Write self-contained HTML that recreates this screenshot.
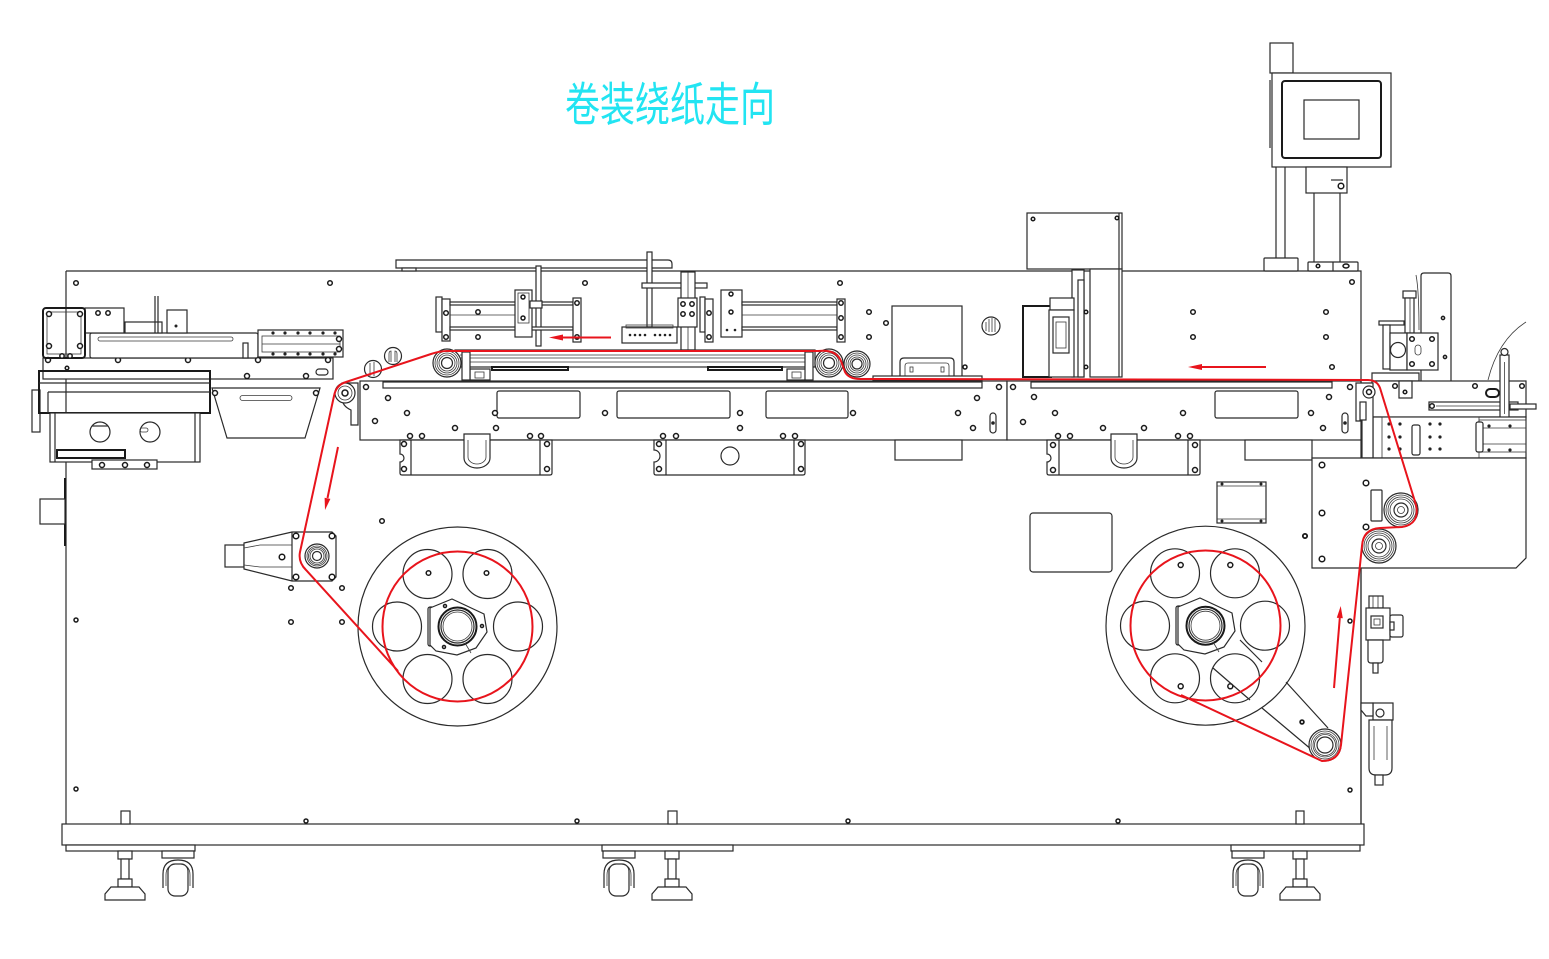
<!DOCTYPE html>
<html><head><meta charset="utf-8"><style>
html,body{margin:0;padding:0;background:#fff;width:1549px;height:959px;overflow:hidden}
svg{display:block}
.l{fill:none;stroke:#2a2a2a;stroke-width:1.2}
.w{fill:#fff;stroke:#2a2a2a;stroke-width:1.2}
.t{fill:none;stroke:#3a3a3a;stroke-width:0.8}
.k{fill:none;stroke:#1a1a1a;stroke-width:2}
.h{fill:#fff;stroke:#1a1a1a;stroke-width:1.5}
.r{fill:none;stroke:#e8141c;stroke-width:2}
.ra{fill:#e8141c;stroke:none}
</style></head><body>
<svg width="1549" height="959" viewBox="0 0 1549 959" xmlns="http://www.w3.org/2000/svg">
<rect width="1549" height="959" fill="#fff"/>

<!-- Title -->
<text transform="translate(565,121) scale(1,1.3)" x="0" y="0" font-family="'Liberation Sans','Noto Sans CJK SC',sans-serif" font-size="36" textLength="210" lengthAdjust="spacingAndGlyphs" fill="#22e4f2">卷装绕纸走向</text>

<!-- Main frame -->
<path class="l" d="M66,271 H1361 V824 M66,271 V824"/>
<path class="k" d="M65,478 V546"/>
<rect class="w" x="40" y="499" width="25" height="25"/>

<!-- base beam -->
<rect class="w" x="62" y="824" width="1302" height="21"/>
<rect class="w" x="66" y="845" width="129" height="6"/>
<rect class="w" x="602" y="845" width="131" height="6"/>
<rect class="w" x="1231" y="845" width="129" height="6"/>
<rect class="w" x="121" y="811" width="9" height="13"/>
<rect class="w" x="668" y="811" width="9" height="13"/>
<rect class="w" x="1296" y="811" width="8" height="13"/>

<!-- feet -->
<g>
<rect class="w" x="118" y="851" width="14" height="8"/><rect class="w" x="121" y="859" width="8" height="20"/><rect class="w" x="118" y="879" width="14" height="8"/>
<path class="w" d="M111,887 H139 L145,894 V900 H105 V894 Z"/>
<rect class="w" x="665" y="851" width="14" height="8"/><rect class="w" x="668" y="859" width="8" height="20"/><rect class="w" x="665" y="879" width="14" height="8"/>
<path class="w" d="M658,887 H686 L692,894 V900 H652 V894 Z"/>
<rect class="w" x="1293" y="851" width="14" height="8"/><rect class="w" x="1296" y="859" width="8" height="20"/><rect class="w" x="1293" y="879" width="14" height="8"/>
<path class="w" d="M1286,887 H1314 L1320,894 V900 H1280 V894 Z"/>
</g>
<!-- casters -->
<g>
<rect class="w" x="162" y="851" width="32" height="7"/>
<path class="l" d="M163,888 V874 Q163,860 178,860 Q193,860 193,874 V888"/>
<rect class="w" x="168" y="864" width="20" height="32" rx="7"/>
<path class="t" d="M166,886 V875 Q166,864 178,864 Q190,864 190,875 V886"/>
<rect class="w" x="603" y="851" width="32" height="7"/>
<path class="l" d="M604,888 V874 Q604,860 619,860 Q634,860 634,874 V888"/>
<rect class="w" x="609" y="864" width="20" height="32" rx="7"/>
<path class="t" d="M607,886 V875 Q607,864 619,864 Q631,864 631,875 V886"/>
<rect class="w" x="1232" y="851" width="32" height="7"/>
<path class="l" d="M1233,888 V874 Q1233,860 1248,860 Q1263,860 1263,874 V888"/>
<rect class="w" x="1238" y="864" width="20" height="32" rx="7"/>
<path class="t" d="M1236,886 V875 Q1236,864 1248,864 Q1260,864 1260,875 V886"/>
</g>

<!-- top rail -->
<path class="w" d="M396,260 H668 Q672,260 672,264 V268 H396 Z"/>
<rect class="w" x="402" y="268" width="14" height="3"/>
<!-- vertical post + bar -->
<rect class="w" x="647" y="252" width="5" height="75"/>
<rect class="w" x="642" y="283" width="65" height="5"/>
<rect class="w" x="536" y="266" width="5" height="80"/>

<!-- Left module -->
<g>
<rect class="w" x="43" y="358" width="290" height="21"/>
<circle class="h" cx="67" cy="368" r="1.8"/><circle class="h" cx="247" cy="376" r="2.5"/><circle class="h" cx="306" cy="376" r="2.5"/>
<rect class="w" x="316" y="369" width="12" height="6" rx="3"/>
<circle class="h" cx="48" cy="360" r="2.5"/><circle class="h" cx="118" cy="360" r="2.5"/><circle class="h" cx="188" cy="360" r="2.5"/><circle class="h" cx="258" cy="360" r="2.5"/><circle class="h" cx="328" cy="360" r="2.5"/>
<rect class="w" x="90" y="333" width="168" height="25" rx="2"/>
<rect class="t" x="98" y="337" width="135" height="4" rx="2"/>
<rect class="w" x="243" y="343" width="5" height="15"/>
<rect class="w" x="258" y="330" width="85" height="27"/>
<rect class="t" x="262" y="336" width="78" height="16"/>
<line class="t" x1="262" y1="344" x2="340" y2="344"/>
<g fill="#222"><circle cx="273" cy="333" r="1.6"/><circle cx="285" cy="333" r="1.6"/><circle cx="298" cy="333" r="1.6"/><circle cx="310" cy="333" r="1.6"/><circle cx="323" cy="333" r="1.6"/><circle cx="335" cy="333" r="1.6"/>
<circle cx="273" cy="354" r="1.6"/><circle cx="285" cy="354" r="1.6"/><circle cx="298" cy="354" r="1.6"/><circle cx="310" cy="354" r="1.6"/><circle cx="323" cy="354" r="1.6"/><circle cx="335" cy="354" r="1.6"/></g>
<circle class="h" cx="339" cy="339" r="2.5"/><circle class="h" cx="339" cy="349" r="2.5"/>
<rect class="w" x="125" y="322" width="37" height="11"/>
<path class="l" d="M155,296 V333 M158,296 V333"/>
<rect class="w" x="167" y="310" width="20" height="23"/>
<circle cx="176" cy="326" r="1.5" fill="#222"/>
<rect class="w" x="85" y="308" width="39" height="25"/>
<circle class="h" cx="98" cy="313" r="2.2"/><circle class="h" cx="108" cy="313" r="2.2"/>
<rect class="k" x="43" y="308" width="42" height="50" rx="3" fill="#fff"/>
<rect class="t" x="47" y="312" width="34" height="42"/>
<circle class="h" cx="49" cy="314" r="2.5"/><circle class="h" cx="80" cy="314" r="2.5"/><circle class="h" cx="49" cy="346" r="2.5"/><circle class="h" cx="80" cy="346" r="2.5"/>
<circle class="h" cx="62" cy="356" r="2.2"/><circle class="h" cx="70" cy="356" r="2.2"/>
<!-- housing -->
<rect class="w" x="32" y="390" width="8" height="42"/>
<rect class="k" x="39" y="371" width="171" height="42" fill="#fff"/>
<line class="l" x1="39" y1="383" x2="210" y2="383"/>
<line class="l" x1="48" y1="392" x2="210" y2="392"/>
<line class="l" x1="48" y1="392" x2="48" y2="413"/>
<rect class="w" x="50" y="413" width="150" height="49"/>
<path class="l" d="M55,413 V462 M195,413 V462"/>
<rect class="k" x="57" y="450" width="68" height="8" fill="#fff"/>
<circle class="w" cx="100" cy="432" r="10"/>
<line class="l" x1="92" y1="426" x2="108" y2="426"/>
<circle class="w" cx="150" cy="432" r="10"/>
<rect class="t" x="140" y="428" width="8" height="4" rx="2"/>
<rect class="w" x="92" y="460" width="65" height="9"/>
<circle class="h" cx="102" cy="465" r="2.5"/><circle class="h" cx="125" cy="465" r="2.5"/><circle class="h" cx="147" cy="465" r="2.5"/>
<!-- funnel -->
<path class="w" d="M212,388 H320 L305,438 H227 Z"/>
<rect class="t" x="240" y="395.5" width="52" height="5" rx="2.5"/>
<circle class="h" cx="215" cy="393" r="2.5"/><circle class="h" cx="316" cy="393" r="2.5"/>
</g>

<!-- knobs -->
<circle class="w" cx="393" cy="356" r="8.5"/><path class="t" d="M389,362 V354 Q389,351 391,351 V362 M395,362 V351 Q397,351 397,354 V362"/>
<circle class="w" cx="373" cy="369" r="8.5"/><path class="t" d="M370,363 V376 M374,362 V376"/>
<circle class="w" cx="991" cy="326" r="9"/><path class="t" d="M986,331 V322 M989,332 V319 M992,332 V318 M995,332 V319"/>

<!-- cylinder left -->
<g>
<rect class="w" x="436" y="297" width="6" height="35"/>
<rect class="w" x="442" y="299" width="8" height="42"/>
<circle class="h" cx="446" cy="313" r="2.3"/><circle class="h" cx="446" cy="337" r="2.3"/>
<rect class="w" x="450" y="302" width="123" height="3"/>
<rect class="w" x="450" y="327" width="123" height="3"/>
<line class="t" x1="450" y1="315" x2="515" y2="315"/>
<rect class="w" x="515" y="290" width="17" height="47"/>
<rect class="t" x="518" y="293" width="11" height="30"/>
<circle class="h" cx="523" cy="297" r="2"/><circle class="h" cx="523" cy="318" r="2"/>
<rect class="w" x="530" y="301" width="12" height="7"/>
<rect class="w" x="573" y="298" width="8" height="44"/>
<circle class="h" cx="577" cy="303" r="2.2"/><circle class="h" cx="577" cy="337" r="2.2"/>
<circle class="h" cx="478" cy="312" r="2.2"/><circle class="h" cx="478" cy="337" r="2.2"/>
</g>
<!-- center hub block -->
<rect class="w" x="681" y="272" width="14" height="78"/>
<line class="t" x1="688" y1="272" x2="688" y2="350"/>
<rect class="w" x="678" y="298" width="19" height="29"/>
<circle class="h" cx="683" cy="304" r="2.2"/><circle class="h" cx="692" cy="304" r="2.2"/><circle class="h" cx="683" cy="314" r="2.2"/><circle class="h" cx="692" cy="314" r="2.2"/>
<rect class="w" x="622" y="327" width="55" height="16"/>
<rect class="t" x="626" y="325" width="47" height="3"/>
<g fill="#222"><circle cx="630" cy="335" r="1.3"/><circle cx="635" cy="335" r="1.3"/><circle cx="640" cy="335" r="1.3"/><circle cx="645" cy="335" r="1.3"/><circle cx="655" cy="335" r="1.3"/><circle cx="660" cy="335" r="1.3"/><circle cx="665" cy="335" r="1.3"/><circle cx="670" cy="335" r="1.3"/></g>
<!-- cylinder right -->
<g>
<rect class="w" x="700" y="297" width="5" height="35"/>
<rect class="w" x="705" y="299" width="8" height="43"/>
<circle class="h" cx="709" cy="313" r="2.2"/><circle class="h" cx="709" cy="337" r="2.2"/>
<rect class="w" x="721" y="290" width="21" height="47"/>
<circle class="h" cx="731" cy="294" r="2"/><circle class="h" cx="731" cy="312" r="2"/>
<circle cx="727" cy="330" r="1.3" fill="#222"/><circle cx="735" cy="330" r="1.3" fill="#222"/>
<rect class="w" x="742" y="302" width="95" height="3"/>
<rect class="w" x="742" y="327" width="95" height="3"/>
<line class="t" x1="742" y1="315" x2="837" y2="315"/>
<rect class="w" x="837" y="299" width="8" height="43"/>
<circle class="h" cx="841" cy="303" r="2.2"/><circle class="h" cx="841" cy="318" r="2.2"/><circle class="h" cx="841" cy="337" r="2.2"/>
</g>

<!-- box with handle -->
<rect class="w" x="892" y="306" width="70" height="72"/>
<path class="w" d="M900,378 V362 Q900,358 904,358 H950 Q954,358 954,362 V378"/>
<path class="t" d="M905,378 V366 Q905,363 908,363 H946 Q949,363 949,366 V378"/>
<rect class="t" x="910" y="367" width="3" height="5"/><rect class="t" x="941" y="367" width="3" height="5"/>
<circle class="h" cx="869" cy="312" r="2.3"/><circle class="h" cx="869" cy="337" r="2.3"/><circle class="h" cx="965" cy="367" r="2"/>
<circle class="h" cx="886" cy="323" r="2.3"/>

<!-- frame holes top -->
<circle class="h" cx="76" cy="283" r="2.3"/><circle class="h" cx="330" cy="283" r="2.3"/><circle class="h" cx="585" cy="283" r="2.3"/><circle class="h" cx="840" cy="283" r="2.3"/><circle class="h" cx="1352" cy="282" r="2.3"/>
<circle class="h" cx="1193" cy="312" r="2.3"/><circle class="h" cx="1326" cy="312" r="2.3"/><circle class="h" cx="1193" cy="337" r="2.3"/><circle class="h" cx="1326" cy="337" r="2.3"/><circle class="h" cx="1332" cy="367" r="2.3"/>

<!-- center roller frame -->
<rect class="w" x="455" y="350" width="360" height="17"/>
<path class="t" d="M460,355 H812 M460,358 H812 M460,362 H812"/>
<rect class="k" x="492" y="367" width="76" height="3" fill="#fff"/>
<rect class="k" x="708" y="367" width="74" height="3" fill="#fff"/>
<rect class="w" x="470" y="369" width="20" height="11"/><rect class="t" x="475" y="372" width="9" height="6"/>
<rect class="w" x="787" y="369" width="21" height="11"/><rect class="t" x="792" y="372" width="9" height="6"/>
<rect class="w" x="462" y="352" width="8" height="28"/>
<rect class="w" x="805" y="352" width="8" height="28"/>
<rect class="w" x="873" y="376" width="109" height="4"/>

<!-- main plates -->
<rect class="w" x="360" y="381" width="647" height="59"/>
<rect class="w" x="1007" y="381" width="354" height="59"/>
<rect class="w" x="383" y="382" width="599" height="6"/>
<rect class="w" x="1031" y="382" width="301" height="6"/>
<path class="w" d="M342,383 H358 V425 H351 V410 Q342,406 342,398 Z"/>
<circle class="w" cx="345" cy="393" r="10"/><circle class="t" cx="345" cy="393" r="7"/><circle class="h" cx="345" cy="393" r="3"/>
<!-- cutouts -->
<rect class="w" x="497" y="391" width="83" height="27" rx="2"/>
<rect class="w" x="617" y="391" width="113" height="27" rx="2"/>
<rect class="w" x="766" y="391" width="82" height="27" rx="2"/>
<rect class="w" x="1215" y="391" width="83" height="27" rx="2"/>
<!-- hanging brackets -->
<g>
<path class="w" d="M400,440 H552 V473 Q552,475 550,475 H402 Q400,475 400,473 V462 A4,4 0 0 0 400,454 Z"/>
<path class="l" d="M411,440 V475 M540,440 V475"/>
<path class="w" d="M464,434 V458 A13,10 0 0 0 490,458 V434 Z"/>
<path class="t" d="M468,440 V457 A9,7 0 0 0 486,457 V440"/>
<path class="w" d="M654,440 H805 V473 Q805,475 803,475 H656 Q654,475 654,473 V462 A6,6 0 0 0 654,450 Z"/>
<path class="l" d="M666,440 V475 M794,440 V475"/>
<circle class="w" cx="730" cy="456" r="9"/>
<rect class="w" x="895" y="440" width="67" height="20"/>
<path class="w" d="M1047,440 H1200 V473 Q1200,475 1198,475 H1049 Q1047,475 1047,473 V462 A4,4 0 0 0 1047,454 Z"/>
<path class="l" d="M1059,440 V475 M1188,440 V475"/>
<path class="w" d="M1111,434 V458 A13,10 0 0 0 1137,458 V434 Z"/>
<path class="t" d="M1115,440 V457 A9,7 0 0 0 1133,457 V440"/>
<rect class="w" x="1245" y="440" width="67" height="20"/>
</g>
<!-- plate holes -->
<g>
<circle class="h" cx="366" cy="387" r="2.5"/><circle class="h" cx="388" cy="398" r="2.5"/><circle class="h" cx="407" cy="413" r="2.5"/><circle class="h" cx="375" cy="421" r="2.5"/><circle class="h" cx="455" cy="428" r="2.5"/><circle class="h" cx="496" cy="428" r="2.5"/><circle class="h" cx="495" cy="413" r="2.5"/>
<circle class="h" cx="410" cy="436" r="2.5"/><circle class="h" cx="422" cy="436" r="2.5"/><circle class="h" cx="530" cy="436" r="2.5"/><circle class="h" cx="541" cy="436" r="2.5"/>
<circle class="h" cx="605" cy="413" r="2.5"/><circle class="h" cx="663" cy="436" r="2.5"/><circle class="h" cx="676" cy="436" r="2.5"/><circle class="h" cx="740" cy="413" r="2.5"/><circle class="h" cx="740" cy="428" r="2.5"/>
<circle class="h" cx="783" cy="436" r="2.5"/><circle class="h" cx="795" cy="436" r="2.5"/><circle class="h" cx="853" cy="413" r="2.5"/><circle class="h" cx="958" cy="413" r="2.5"/><circle class="h" cx="977" cy="398" r="2.5"/><circle class="h" cx="999" cy="387" r="2.5"/><circle class="h" cx="973" cy="428" r="2.5"/>
<circle class="h" cx="404" cy="444" r="2.5"/><circle class="h" cx="404" cy="469" r="2.5"/><circle class="h" cx="547" cy="444" r="2.5"/><circle class="h" cx="547" cy="469" r="2.5"/>
<circle class="h" cx="659" cy="444" r="2.5"/><circle class="h" cx="659" cy="469" r="2.5"/><circle class="h" cx="801" cy="444" r="2.5"/><circle class="h" cx="801" cy="469" r="2.5"/>
<circle class="h" cx="1013" cy="387" r="2.5"/><circle class="h" cx="1034" cy="397" r="2.5"/><circle class="h" cx="1023" cy="422" r="2.5"/><circle class="h" cx="1055" cy="413" r="2.5"/><circle class="h" cx="1103" cy="428" r="2.5"/><circle class="h" cx="1144" cy="428" r="2.5"/><circle class="h" cx="1183" cy="413" r="2.5"/>
<circle class="h" cx="1058" cy="436" r="2.5"/><circle class="h" cx="1070" cy="436" r="2.5"/><circle class="h" cx="1178" cy="436" r="2.5"/><circle class="h" cx="1190" cy="436" r="2.5"/>
<circle class="h" cx="1311" cy="413" r="2.5"/><circle class="h" cx="1329" cy="397" r="2.5"/><circle class="h" cx="1323" cy="428" r="2.5"/><circle class="h" cx="1350" cy="387" r="2.5"/>
<circle class="h" cx="1053" cy="445" r="2.5"/><circle class="h" cx="1053" cy="470" r="2.5"/><circle class="h" cx="1195" cy="445" r="2.5"/><circle class="h" cx="1195" cy="470" r="2.5"/>
</g>
<rect class="w" x="990" y="413" width="6" height="20" rx="3"/><circle cx="993" cy="423" r="1.8" fill="#222"/>
<rect class="w" x="1342" y="413" width="6" height="20" rx="3"/><circle cx="1345" cy="423" r="1.8" fill="#222"/>

<!-- center rollers -->
<g>
<circle class="w" cx="447" cy="363" r="14"/><circle class="t" cx="447" cy="363" r="12"/><circle class="t" cx="447" cy="363" r="10"/><circle class="t" cx="447" cy="363" r="8"/><circle class="w" cx="447" cy="363" r="5.5"/>
<circle class="w" cx="829" cy="363" r="14"/><circle class="t" cx="829" cy="363" r="12"/><circle class="t" cx="829" cy="363" r="10"/><circle class="t" cx="829" cy="363" r="8"/><circle class="w" cx="829" cy="363" r="5.5"/>
<circle class="w" cx="857" cy="364" r="13"/><circle class="t" cx="857" cy="364" r="11"/><circle class="t" cx="857" cy="364" r="9"/><circle class="t" cx="857" cy="364" r="7"/><circle class="w" cx="857" cy="364" r="5"/>
</g>

<!-- right top box and mechanism -->
<rect class="w" x="1027" y="213" width="95" height="56"/>
<line class="l" x1="1119" y1="213" x2="1119" y2="269"/>
<circle class="h" cx="1033" cy="219" r="1.8"/><circle class="h" cx="1117" cy="218" r="1.8"/>
<rect class="w" x="1090" y="269" width="32" height="108"/>
<line class="l" x1="1119" y1="269" x2="1119" y2="377"/>
<rect class="k" x="1023" y="306" width="28" height="71" fill="#fff"/>
<rect class="w" x="1072" y="270" width="12" height="107"/>
<rect class="w" x="1078" y="280" width="6" height="97"/>
<rect class="w" x="1050" y="298" width="24" height="12"/>
<rect class="w" x="1049" y="310" width="25" height="67"/>
<rect class="w" x="1053" y="317" width="16" height="36"/>
<rect class="t" x="1056" y="322" width="10" height="26"/>
<circle class="h" cx="1086" cy="312" r="1.8"/><circle class="h" cx="1086" cy="367" r="1.8"/>

<!-- monitor and poles -->
<rect class="w" x="1270" y="43" width="23" height="30"/>
<rect class="w" x="1272" y="73" width="119" height="94"/>
<rect class="k" x="1282" y="81" width="99" height="77" rx="3" fill="#fff"/>
<rect class="w" x="1304" y="100" width="55" height="39"/>
<line class="l" x1="1270" y1="80" x2="1270" y2="148"/>
<path class="l" d="M1276,167 V258 M1285,167 V258 M1314,193 V262 M1340,193 V262"/>
<rect class="w" x="1306" y="167" width="41" height="26"/>
<line class="l" x1="1331" y1="180" x2="1343" y2="180"/>
<circle class="h" cx="1341" cy="186" r="2.8"/>
<rect class="w" x="1264" y="258" width="34" height="13" rx="1"/>
<rect class="w" x="1308" y="262" width="50" height="9" rx="1"/>
<line class="l" x1="1333" y1="262" x2="1333" y2="271"/>
<circle class="h" cx="1318" cy="266" r="1.8"/><ellipse class="h" cx="1346" cy="266" rx="3" ry="2"/>

<!-- right side assembly -->
<g>
<path class="w" d="M1421,381 V276 Q1421,273 1424,273 H1448 Q1451,273 1451,276 V381"/>
<circle class="h" cx="1443" cy="318" r="1.6"/><circle class="h" cx="1445" cy="357" r="1.6"/>
<path class="t" d="M1416,275 Q1419,290 1419,330"/>
<rect class="w" x="1403" y="291" width="13" height="7"/>
<rect class="w" x="1405" y="298" width="9" height="35"/>
<line class="t" x1="1410" y1="298" x2="1410" y2="333"/>
<rect class="w" x="1379" y="321" width="25" height="4"/>
<rect class="w" x="1383" y="325" width="7" height="44"/>
<rect class="w" x="1390" y="333" width="17" height="37"/>
<circle class="w" cx="1398" cy="350" r="7.5"/>
<rect class="w" x="1407" y="333" width="31" height="37"/>
<circle class="h" cx="1412" cy="339" r="2.3"/><circle class="h" cx="1432" cy="339" r="2.3"/><circle class="h" cx="1412" cy="364" r="2.3"/><circle class="h" cx="1432" cy="364" r="2.3"/>
<rect class="t" x="1415" y="345" width="6" height="10" rx="3"/>
<path class="w" d="M1372,373 H1419 V381 H1372 Z"/>
<path class="t" d="M1488,380 Q1498,340 1526,322"/>
<rect class="w" x="1372" y="381" width="154" height="36"/>
<rect class="w" x="1399" y="381" width="13" height="17"/>
<circle class="h" cx="1405" cy="392" r="1.8"/>
<circle class="h" cx="1395" cy="386" r="2.3"/><circle class="h" cx="1475" cy="386" r="2.3"/><circle class="h" cx="1522" cy="386" r="2.3"/>
<rect class="k" x="1486" y="389" width="13" height="8" rx="4" fill="#fff"/>
<rect class="w" x="1429" y="402" width="89" height="8"/>
<line class="t" x1="1436" y1="406" x2="1500" y2="406"/>
<circle class="h" cx="1432" cy="406" r="2.3"/>
<rect class="w" x="1510" y="404" width="26" height="5"/>
<rect class="w" x="1500" y="355" width="9" height="64"/>
<line class="t" x1="1504.5" y1="362" x2="1504.5" y2="414"/>
<circle class="w" cx="1504.5" cy="352" r="3.5"/>
<rect class="w" x="1373" y="417" width="153" height="41"/>
<rect class="t" x="1382" y="417" width="97" height="41"/>
<rect class="t" x="1479" y="420" width="47" height="32"/>
<path class="t" d="M1479,428 H1526 M1479,444 H1526"/>
<rect class="w" x="1412" y="425" width="8" height="30" rx="2"/>
<rect class="w" x="1476" y="422" width="7" height="30" rx="2"/>
<g fill="#222"><circle cx="1389" cy="424" r="1.6"/><circle cx="1400" cy="424" r="1.6"/><circle cx="1389" cy="437" r="1.6"/><circle cx="1400" cy="437" r="1.6"/><circle cx="1389" cy="449" r="1.6"/><circle cx="1400" cy="449" r="1.6"/>
<circle cx="1430" cy="424" r="1.6"/><circle cx="1440" cy="424" r="1.6"/><circle cx="1430" cy="437" r="1.6"/><circle cx="1440" cy="437" r="1.6"/><circle cx="1430" cy="449" r="1.6"/><circle cx="1440" cy="449" r="1.6"/><circle cx="1489" cy="426" r="1.6"/><circle cx="1510" cy="426" r="1.6"/><circle cx="1489" cy="450" r="1.6"/><circle cx="1510" cy="450" r="1.6"/></g>
<path class="w" d="M1356,383 H1373 V458 H1362 V421 H1356 Z"/>
<circle class="w" cx="1369" cy="392" r="6"/><circle class="h" cx="1369" cy="392" r="2.5"/>
<rect class="w" x="1360" y="402" width="6" height="18"/>
<!-- big panel -->
<path class="w" d="M1312,458 H1526 V558 L1516,568 H1312 Z"/>
<rect class="w" x="1371" y="490" width="11" height="31" rx="1"/>
<circle class="h" cx="1322" cy="465" r="2.8"/><circle class="h" cx="1366" cy="483" r="2.8"/><circle class="h" cx="1322" cy="513" r="2.8"/><circle class="h" cx="1305" cy="536" r="2.3"/><circle class="h" cx="1322" cy="559" r="2.8"/><circle class="h" cx="1366" cy="527" r="2.8"/>
<circle class="w" cx="1401" cy="510" r="17"/><circle class="t" cx="1401" cy="510" r="15"/><circle class="t" cx="1401" cy="510" r="13"/><circle class="t" cx="1401" cy="510" r="11"/><circle class="w" cx="1401" cy="510" r="7"/><circle class="t" cx="1401" cy="510" r="3.5"/>
<circle class="w" cx="1379" cy="546" r="17"/><circle class="t" cx="1379" cy="546" r="15"/><circle class="t" cx="1379" cy="546" r="13"/><circle class="t" cx="1379" cy="546" r="11"/><circle class="w" cx="1379" cy="546" r="7"/><circle class="t" cx="1379" cy="546" r="3.5"/>
</g>
<line class="l" x1="1361" y1="568" x2="1361" y2="824"/>

<!-- regulator + filter -->
<g>
<rect class="w" x="1369" y="596" width="14" height="12"/>
<path class="t" d="M1373,596 V608 M1378,596 V608"/>
<rect class="w" x="1366" y="608" width="24" height="32"/>
<rect class="w" x="1371" y="616" width="12" height="12"/>
<rect class="t" x="1374" y="619" width="6" height="6"/>
<rect class="w" x="1390" y="615" width="13" height="22" rx="2"/>
<rect class="w" x="1390" y="622" width="4" height="8"/>
<path class="w" d="M1368,640 H1383 V660 Q1383,663 1380,663 H1371 Q1368,663 1368,660 Z"/>
<rect class="w" x="1373" y="663" width="5" height="10"/>
<rect class="w" x="1373" y="703" width="20" height="17"/>
<circle class="w" cx="1380" cy="713" r="4"/>
<path class="w" d="M1361,703 H1373 V716 H1366 L1361,710 Z"/>
<path class="w" d="M1369,720 H1392 V768 Q1392,775 1385,775 H1376 Q1369,775 1369,768 Z"/>
<path class="t" d="M1374,726 V760 M1387,726 V760"/>
<rect class="w" x="1375" y="775" width="8" height="10"/>
</g>

<!-- left roller assembly -->
<g>
<rect class="w" x="225" y="545" width="19" height="22"/>
<path class="w" d="M244,543 L292,532 H332 L336,536 V577 L332,581 H292 L244,569 Z"/>
<path class="t" d="M244,548 L260,545 H292 M244,565 L260,567 H292"/>
<line class="l" x1="292" y1="532" x2="292" y2="581"/>
<circle class="h" cx="282" cy="557" r="2.8"/>
<circle class="h" cx="296" cy="536" r="2.8"/><circle class="h" cx="332" cy="536" r="2.8"/><circle class="h" cx="296" cy="577" r="2.8"/><circle class="h" cx="332" cy="577" r="2.8"/>
<circle class="w" cx="317" cy="556" r="12"/><circle class="t" cx="317" cy="556" r="10"/><circle class="t" cx="317" cy="556" r="8.5"/><circle class="t" cx="317" cy="556" r="7"/><circle class="w" cx="317" cy="556" r="4.5"/>
</g>

<!-- misc frame holes -->
<g>
<circle class="h" cx="382" cy="521" r="2.3"/><circle class="h" cx="291" cy="588" r="2.3"/><circle class="h" cx="342" cy="588" r="2.3"/><circle class="h" cx="291" cy="622" r="2.3"/><circle class="h" cx="342" cy="622" r="2.3"/>
<circle class="h" cx="76" cy="620" r="2"/><circle class="h" cx="76" cy="789" r="2"/>
<circle class="h" cx="306" cy="821" r="2"/><circle class="h" cx="577" cy="821" r="2"/><circle class="h" cx="848" cy="821" r="2"/><circle class="h" cx="1118" cy="821" r="2"/>
<circle class="h" cx="1350" cy="621" r="2"/><circle class="h" cx="1350" cy="790" r="2"/><circle class="h" cx="1302" cy="722" r="2"/><circle class="h" cx="1305" cy="536" r="2"/>
</g>

<!-- boxes right middle -->
<rect class="w" x="1217" y="482" width="49" height="41"/>
<path class="t" d="M1217,486 H1266 M1217,519 H1266"/>
<g fill="#222"><circle cx="1222" cy="484" r="1.5"/><circle cx="1261" cy="484" r="1.5"/><circle cx="1222" cy="521" r="1.5"/><circle cx="1261" cy="521" r="1.5"/></g>
<rect class="w" x="1030" y="513" width="82" height="59" rx="3"/>

<!-- Left reel -->
<g>
<circle class="l" cx="457.5" cy="626.5" r="99.5"/>
<circle class="l" cx="427.5" cy="574" r="24.5"/><circle class="l" cx="487.5" cy="574" r="24.5"/>
<circle class="l" cx="397" cy="626.5" r="24.5"/><circle class="l" cx="518" cy="626.5" r="24.5"/>
<circle class="l" cx="427.5" cy="679" r="24.5"/><circle class="l" cx="487.5" cy="679" r="24.5"/>
<circle class="h" cx="428.5" cy="573" r="2.3"/><circle class="h" cx="486.5" cy="573" r="2.3"/>
<rect class="w" x="428" y="607" width="6" height="39" rx="2"/>
<path class="w" d="M430,608 L452,599 L484,614 L487,632 L476,648 L457,655 L436,651 L430,645 Z"/>
<circle class="k" cx="457.5" cy="626.5" r="19" fill="#fff"/>
<circle class="l" cx="457.5" cy="626.5" r="16.5"/>
<circle class="t" cx="457.5" cy="626.5" r="14.5"/>
<line class="t" x1="465" y1="643" x2="471" y2="653"/>
<circle class="h" cx="445" cy="606" r="1.5"/><circle class="h" cx="482" cy="626" r="1.5"/><circle class="h" cx="444" cy="647" r="1.5"/>
</g>

<!-- Right reel -->
<g>
<circle class="l" cx="1205.5" cy="625.7" r="99.5"/>
<circle class="l" cx="1175" cy="573.3" r="24.5"/><circle class="l" cx="1235" cy="573.3" r="24.5"/>
<circle class="l" cx="1145" cy="625.7" r="24.5"/><circle class="l" cx="1265" cy="625.7" r="24.5"/>
<circle class="l" cx="1175" cy="678.3" r="24.5"/><circle class="l" cx="1235" cy="678.3" r="24.5"/>
<circle class="h" cx="1180.7" cy="565" r="2.5"/><circle class="h" cx="1230.3" cy="565" r="2.5"/><circle class="h" cx="1180.7" cy="686.3" r="2.5"/><circle class="h" cx="1230.3" cy="686.3" r="2.5"/>
<path class="l" d="M1213,668 L1250,700 M1286,682 L1328,728 M1262,708 L1312,750 M1240,640 L1262,662"/>
<circle class="h" cx="1302" cy="722" r="1.8"/>
<rect class="w" x="1176" y="606" width="6" height="39" rx="2"/>
<path class="w" d="M1178,607 L1200,598 L1232,613 L1235,631 L1224,647 L1205,654 L1184,650 L1178,644 Z"/>
<circle class="k" cx="1205.5" cy="625.7" r="19" fill="#fff"/>
<circle class="l" cx="1205.5" cy="625.7" r="16.5"/>
<circle class="t" cx="1205.5" cy="625.7" r="14.5"/>
<line class="t" x1="1213" y1="642" x2="1219" y2="652"/>
<circle class="w" cx="1325" cy="745" r="16"/><circle class="t" cx="1325" cy="745" r="14"/><circle class="t" cx="1325" cy="745" r="12"/><circle class="t" cx="1325" cy="745" r="10.5"/><circle class="w" cx="1325" cy="745" r="8"/>
</g>

<!-- Red paper path -->
<g>
<circle class="r" cx="457.5" cy="626.5" r="75"/>
<circle class="r" cx="1205.5" cy="625.5" r="75"/>
<path class="r" d="M398,671 L306,570 Q298,562 300,552 L334,396 Q336,385 346,382 L431,354 Q440,351 447,351 L818,351 Q836,349 841,361 L845,372 Q849,379 860,379 L1368,380 Q1377,380 1380,388 L1416,505 Q1420,524 1402,527 L1380,528 Q1363,529 1362,546 L1341,745 Q1339,761 1322,761 L1181,695"/>
<line class="r" x1="611" y1="337.5" x2="560" y2="337.5"/>
<polygon class="ra" points="549,337.5 563,334.5 563,340.5"/>
<line class="r" x1="1266" y1="367" x2="1200" y2="367"/>
<polygon class="ra" points="1188,367 1202,364 1202,370"/>
<line class="r" x1="338" y1="447" x2="327.5" y2="498"/>
<polygon class="ra" points="325,510 324.6,497.7 330.4,498.9"/>
<line class="r" x1="1334" y1="688" x2="1339.8" y2="618"/>
<polygon class="ra" points="1340.7,606 1342.8,618.2 1336.8,617.8"/>
</g>
</svg>
</body></html>
